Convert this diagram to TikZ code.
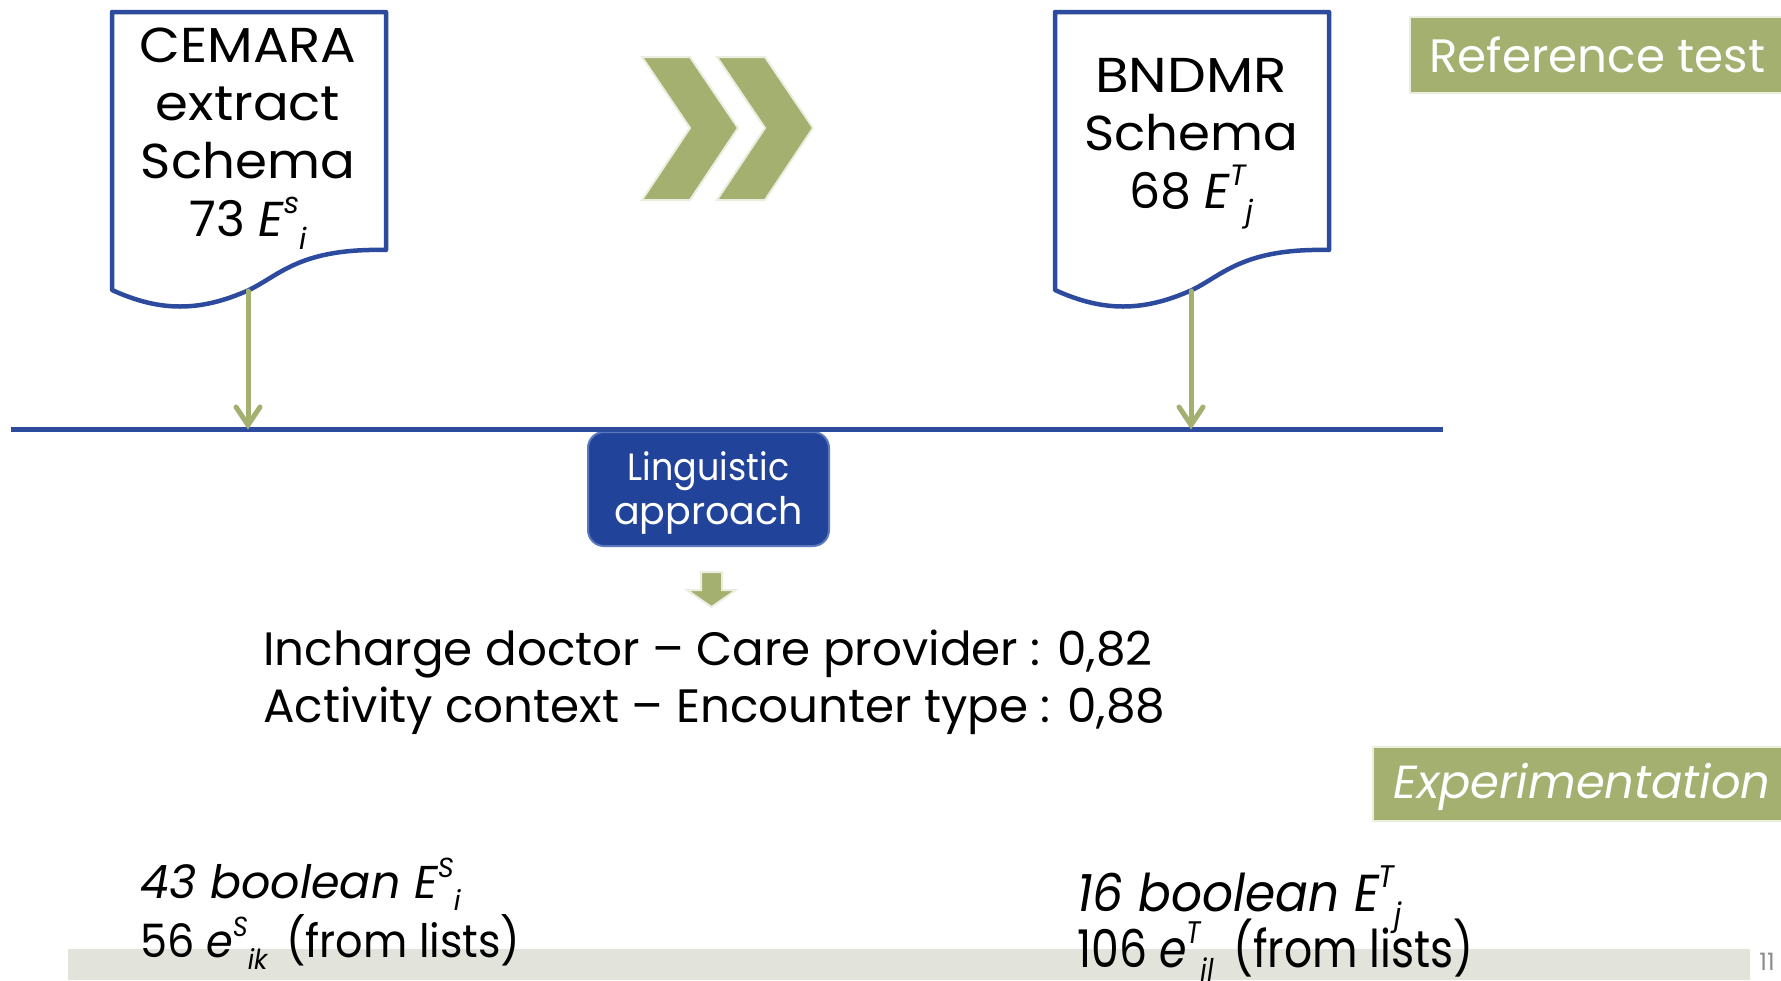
\documentclass[tikz,border=0pt]{standalone}
\usepackage{fontspec}
\setmainfont{Poppins}
\usetikzlibrary{arrows.meta}
\definecolor{blueC}{HTML}{2C4B9E}
\definecolor{greenC}{HTML}{A3B06F}
\definecolor{lightC}{HTML}{EBEDE0}
\definecolor{barC}{HTML}{E2E3DB}
\definecolor{lingFill}{HTML}{21439A}
\definecolor{lingBorder}{HTML}{5A78BE}
\newcommand\SupSub[2]{\raisebox{0.45em}{\scalebox{0.6}{\itshape #1}}\raisebox{-0.28em}{\scalebox{0.6}{\itshape #2}}}
\newcommand\WideDoc[1]{\scalebox{1.08}[1]{#1}}
\tikzset{
  docshape/.style={draw=blueC, line width=2.25pt, fill=white, line join=round},
  doctext/.style={anchor=base, inner sep=0pt, font=\fontsize{24.5}{29}\selectfont},
  bodytext/.style={anchor=base west, inner sep=0pt, font=\fontsize{23.4}{28}\selectfont},
  tagtext/.style={anchor=base west, inner sep=0pt, text=white, font=\fontsize{23.4}{27}\selectfont},
  greenarrow/.style={draw=greenC, line width=2.5pt, line cap=round, -{Straight Barb[length=9pt,width=12pt,line cap=round]}},
  chevron/.style={fill=greenC, draw=lightC, line width=1pt, line join=miter},
}
\begin{document}
\begin{tikzpicture}[x=0.5pt,y=-0.5pt]
\useasboundingbox (0,0) rectangle (1781,980);
% bottom bar
\fill[barC] (68,949) rectangle (1750,980);
\node[anchor=base, inner sep=0pt, text=black!45, font=\fontsize{12}{14}\selectfont] (pgnum) at (1767,970) {11};
% documents
\foreach \dx/\nm in {0/L, 943/R}{
  \begin{scope}[xshift=\dx*0.5pt]
    \draw[docshape] (112,12) -- (386,12) -- (386,250)
      .. controls (300,248) and (280,275) .. (249,290)
      .. controls (200,312) and (160,312) .. (112,290) -- cycle;
  \end{scope}
}
\coordinate (docLb) at (248,291);
\coordinate (docRb) at (1191,291);
\coordinate (lineL) at (11,429.5);
\coordinate (lineR) at (1443,429.5);
\coordinate (hitL) at (248,429.5);
\coordinate (hitR) at (1191,429.5);
% doc texts
\node[doctext] (c1) at (248,62) {\WideDoc{CEMARA}};
\node[doctext] (c2) at (248,120) {\WideDoc{extract}};
\node[doctext] (c3) at (248,178) {\scalebox{1.05}[1]{Schema}};
\node[doctext] (c4) at (248,236) {73 \textit{E}\SupSub{s}{i}};
\node[doctext] (b1) at (1191,92) {\scalebox{1.12}[1]{BNDMR}};
\node[doctext] (b2) at (1191,150) {\scalebox{1.05}[1]{Schema}};
\node[doctext] (b3) at (1191,208) {68 \textit{E}\SupSub{T}{j}};
% chevrons
\foreach \dx in {0,75}{
  \fill[chevron] ({642+\dx},57) -- ({690+\dx},57) -- ({738+\dx},128) -- ({690+\dx},200) -- ({642+\dx},200) -- ({690+\dx},128) -- cycle;
}
% linguistic box
\node[draw=lingBorder, fill=lingFill, line width=1pt, rounded corners=8pt, minimum width=120.5pt, minimum height=57pt, inner sep=0pt] (ling) at (708.5,489) {};
\node[anchor=base, inner sep=0pt, text=white, font=\fontsize{19}{21}\selectfont] (ling1) at (708.5,480) {\scalebox{0.92}[1]{Linguistic}};
\node[anchor=base, inner sep=0pt, text=white, font=\fontsize{19}{21}\selectfont] (ling2) at (708.5,524) {approach};
% horizontal line
\draw[blueC, line width=2.5pt] (lineL) -- (lineR);
% arrows
\draw[greenarrow] (docLb) -- (hitL);
\draw[greenarrow] (docRb) -- (hitR);
% small down arrow
\fill[chevron] (701,572) -- (722,572) -- (722,590) -- (736,590) -- (711.5,607) -- (687,590) -- (701,590) -- cycle;
% body text
\node[bodytext] (t1) at (263,665) {Incharge doctor – Care provider : 0,82};
\node[bodytext] (t2) at (263,722) {Activity context – Encounter type : 0,88};
% tags
\fill[chevron] (1410,17) rectangle (1790,93);
\node[tagtext] (ref) at (1429,72) {Reference test};
\fill[chevron] (1373,747) rectangle (1790,821);
\node[tagtext, font=\fontsize{23.2}{27}\selectfont\itshape] (exp) at (1393,798) {Experimentation};
% bottom texts
\node[bodytext, font=\fontsize{23}{28}\selectfont\itshape] (l1) at (140,898) {43 boolean E\SupSub{S}{i}};
\node[bodytext, font=\fontsize{23}{28}\selectfont] (l2) at (140,957) {\scalebox{0.935}[1]{56 \textit{e}\SupSub{S}{ik}\, (from lists)}};
\node[bodytext, font=\fontsize{26}{30}\selectfont\itshape] (r1) at (1077,911) {\scalebox{0.935}[1]{16 boolean E\SupSub{T}{j}}};
\node[bodytext, font=\fontsize{26}{30}\selectfont] (r2) at (1077,967) {\scalebox{0.85}[1]{106 \textit{e}\SupSub{T}{jl}\, (from lists)}};
\end{tikzpicture}
\end{document}
